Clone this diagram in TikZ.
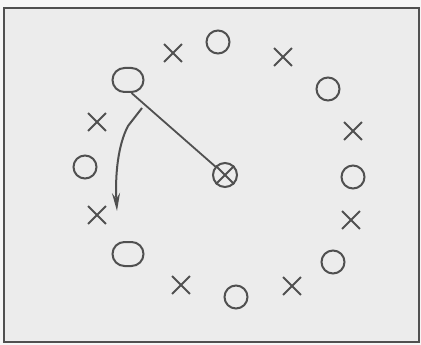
\documentclass[tikz,border=0pt]{standalone}
\usepackage{tikz}
\usetikzlibrary{arrows.meta, shapes.misc}
\definecolor{ink}{RGB}{80, 80, 80}
\definecolor{paper}{RGB}{236, 236, 236}
\definecolor{margin}{RGB}{246, 246, 246}

\begin{document}
\begin{tikzpicture}[x=1pt, y=-1pt,
    ring/.style={draw=ink, circle, line width=2pt, minimum size=23pt, inner sep=0pt},
    oval/.style={draw=ink, rounded rectangle, line width=2pt, minimum width=31pt,
                 minimum height=24pt, inner sep=0pt},
    cross/.style={draw=ink, cross out, line width=1.8pt, minimum size=16pt, inner sep=0pt},
    arr/.style={-{Stealth[length=18pt, width=8pt]}, line width=2pt, ink}
  ]
    \fill[margin] (0,0) rectangle (421,345);
    \useasboundingbox (0,0) rectangle (421,345);
    \draw[ink, line width=2pt, fill=paper] (4,8) rectangle (419,342);
    \node[oval] (ovtop) at (128,80) {};
    \node[cross] (x1) at (173,53) {};
    \node[ring] (o1) at (218,42) {};
    \node[cross] (x2) at (283,57) {};
    \node[ring] (o2) at (328,89) {};
    \node[cross] (x3) at (353,131) {};
    \node[ring] (o3) at (353,177) {};
    \node[cross] (x4) at (351,220) {};
    \node[ring] (o4) at (333,262) {};
    \node[cross] (x5) at (292,286) {};
    \node[ring] (o5) at (236,297) {};
    \node[cross] (x6) at (181,285) {};
    \node[oval] (ovbot) at (128,254) {};
    \node[cross] (x7) at (97,215) {};
    \node[ring] (o6) at (85,167) {};
    \node[cross] (x8) at (97,122) {};
    \node[ring, minimum size=24pt] (hub) at (225,175) {};
    \draw[ink, line width=1.8pt] (hub.45) -- (hub.225) (hub.135) -- (hub.315);
    \draw[ink, line width=1.8pt] (ovtop.south east) -- (hub);
    \coordinate (swing) at (142,108);
    \coordinate (land) at (117,211);
    \draw[arr] (swing) -- (128,126) .. controls (118,145) and (115,175) .. (land);
  \end{tikzpicture}
\end{document}
